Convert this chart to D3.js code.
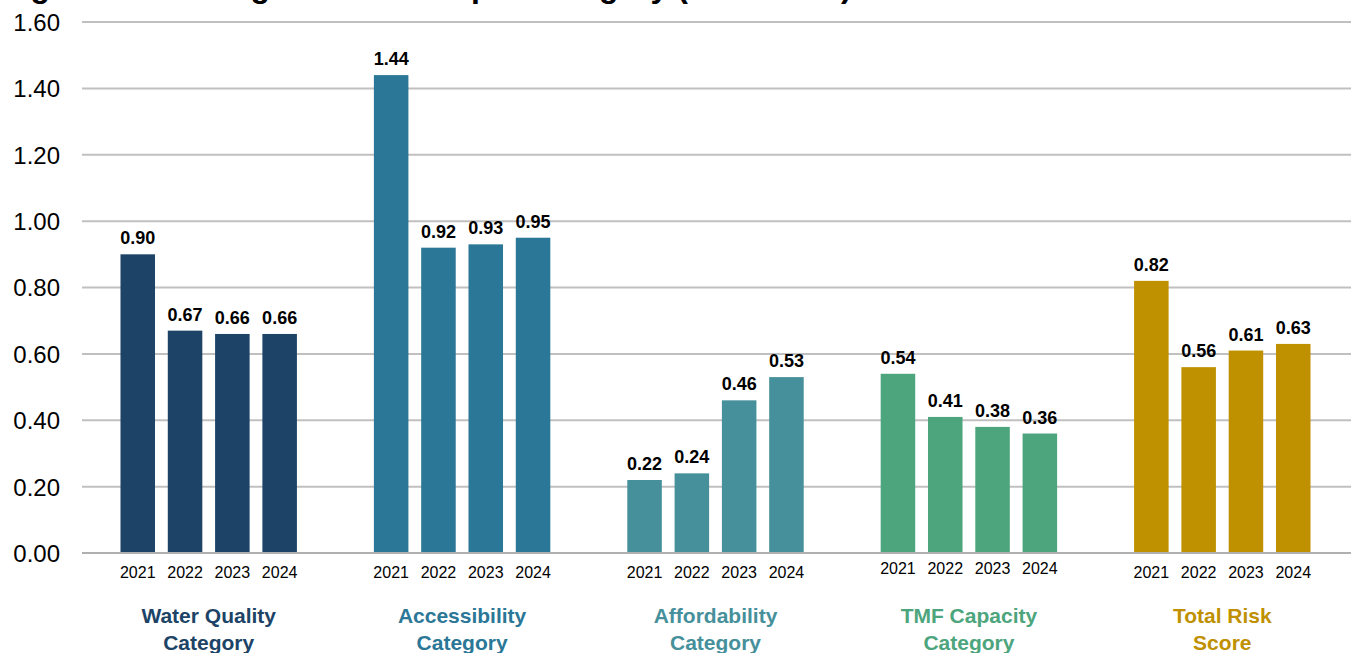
<!DOCTYPE html>
<html>
<head>
<meta charset="utf-8">
<script src="https://cdn.jsdelivr.net/npm/d3@7"></script>
<style>
  html, body { margin: 0; padding: 0; background: #ffffff; }
  svg { display: block; }
  text { font-family: Arial, "Liberation Sans", sans-serif; }
</style>
</head>
<body>
<svg id="chart" width="1351" height="653"></svg>
<script>
// ---- data ----
const title = "Figure 10: Average Risk Score per Category (2021-2024)";
const categories = ["Water Quality|Category", "Accessibility|Category", "Affordability|Category", "TMF Capacity|Category", "Total Risk|Score"];
const years = ["2021", "2022", "2023", "2024"];
const waterQuality = [0.90, 0.67, 0.66, 0.66];
const accessibility = [1.44, 0.92, 0.93, 0.95];
const affordability = [0.22, 0.24, 0.46, 0.53];
const tmfCapacity = [0.54, 0.41, 0.38, 0.36];
const totalRisk = [0.82, 0.56, 0.61, 0.63];
const yTicks = [0, 0.2, 0.4, 0.6, 0.8, 1.0, 1.2, 1.4, 1.6];
const categoryColors = ["#1d4466", "#2b7797", "#46909b", "#4da57d", "#bf9000"];

const seriesByCategory = [waterQuality, accessibility, affordability, tmfCapacity, totalRisk];

// ---- layout ----
const svg = d3.select("#chart");
const plotLeft = 82, plotRight = 1349, plotTop = 22, plotBottom = 553;

const y = d3.scaleLinear().domain([0, 1.6]).range([plotBottom, plotTop]);
const x0 = d3.scaleBand().domain(d3.range(categories.length)).range([plotLeft, plotRight]).padding(0);
const x1 = d3.scaleBand().domain(years)
  .range([-94.6, 94.6]).paddingInner(0.27).paddingOuter(0.135);

// title (cropped at the top in the reference)
svg.append("text")
  .attr("x", 2).attr("y", -3)
  .attr("font-size", 32).attr("font-weight", "bold").attr("fill", "#000")
  .text(title);

// gridlines
svg.append("g").selectAll("line").data(yTicks).join("line")
  .attr("x1", plotLeft).attr("x2", 1351)
  .attr("y1", d => y(d)).attr("y2", d => y(d))
  .attr("stroke", "#c0c0c0").attr("stroke-width", 2);

// y axis labels
const yAxis = d3.axisLeft(y).tickValues(yTicks).tickFormat(d3.format(".2f")).tickSize(0).tickPadding(0);
const gy = svg.append("g").attr("transform", `translate(60,0)`).call(yAxis);
gy.select(".domain").remove();
gy.selectAll("text").attr("font-size", 24).attr("fill", "#000")
  .attr("font-family", "Arial, 'Liberation Sans', sans-serif").attr("dy", "0.35em");

// bars
const groups = svg.append("g").selectAll("g.cat").data(seriesByCategory).join("g")
  .attr("class", "cat")
  .attr("transform", (d, i) => `translate(${x0(i) + x0.bandwidth() / 2},0)`);

groups.each(function(vals, ci) {
  const g = d3.select(this);
  const rows = vals.map((v, i) => ({ year: years[i], value: v }));
  g.selectAll("rect").data(rows).join("rect")
    .attr("x", d => x1(d.year))
    .attr("width", x1.bandwidth())
    .attr("y", d => y(d.value))
    .attr("height", d => y(0) - y(d.value))
    .attr("fill", categoryColors[ci]);

  g.selectAll("text.val").data(rows).join("text")
    .attr("class", "val")
    .attr("x", d => x1(d.year) + x1.bandwidth() / 2)
    .attr("y", d => y(d.value) - 10)
    .attr("text-anchor", "middle")
    .attr("font-size", 18).attr("font-weight", "bold").attr("fill", "#000")
    .text(d => d3.format(".2f")(d.value));

  g.selectAll("text.yr").data(rows).join("text")
    .attr("class", "yr")
    .attr("x", d => x1(d.year) + x1.bandwidth() / 2)
    .attr("y", ci === 3 ? 574 : 578)
    .attr("text-anchor", "middle")
    .attr("font-size", 16).attr("fill", "#000")
    .text(d => d.year);

  const lines = categories[ci].split("|");
  const lbl = g.append("text")
    .attr("text-anchor", "middle")
    .attr("font-size", 21).attr("font-weight", "bold")
    .attr("fill", categoryColors[ci]);
  lines.forEach((ln, li) => {
    lbl.append("tspan").attr("x", 0).attr("y", 623 + li * 27).text(ln);
  });
});

// baseline axis line
svg.append("line")
  .attr("x1", plotLeft).attr("x2", 1351)
  .attr("y1", y(0)).attr("y2", y(0))
  .attr("stroke", "#b0b0b0").attr("stroke-width", 2);
</script>
</body>
</html>
